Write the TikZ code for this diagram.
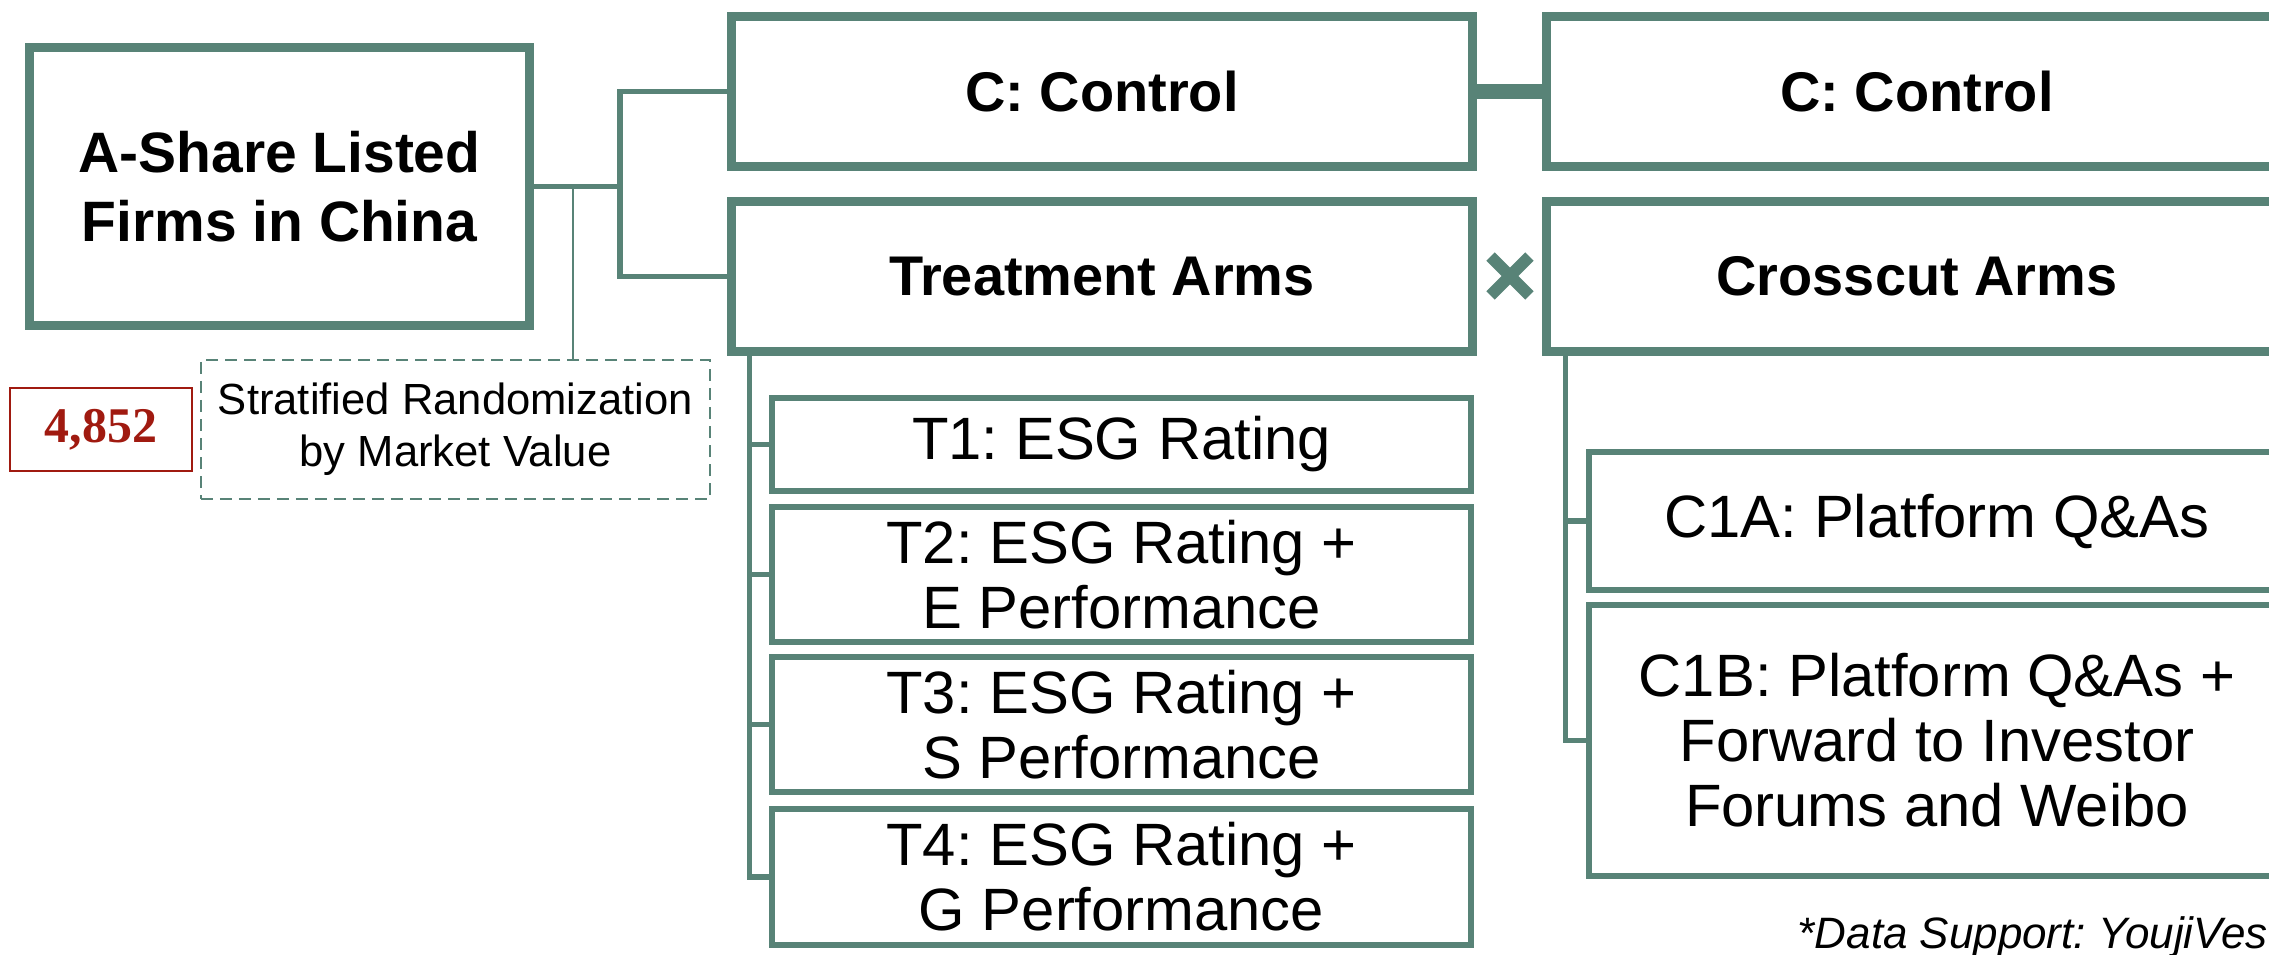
\documentclass[tikz,border=0pt]{standalone}
\usepackage{fontspec}
\setmainfont{Liberation Sans}
\newfontfamily\numfont{Liberation Serif}
\usetikzlibrary{shapes.misc}
\definecolor{esg}{RGB}{88,131,119}
\definecolor{esgred}{RGB}{160,26,16}
\frenchspacing

\begin{document}
\begin{tikzpicture}[
  x=0.01cm, y=-0.01cm,
  frame/.style={draw=esg, line width=2.56pt, fill=white, align=center, inner sep=0pt},
  head/.style={frame, font=\bfseries\fontsize{15.9}{19.6}\selectfont,
    minimum width=7.41cm, minimum height=1.50cm},
  arm/.style={draw=esg, line width=1.7pt, fill=white, align=center, inner sep=0pt,
    font=\fontsize{17.0}{18.5}\selectfont, minimum width=6.99cm},
  link/.style={draw=esg, line width=1.7pt},
  stub/.style={draw=esg, line width=1.45pt}
]
\useasboundingbox (0,0) rectangle (2269,954);
\clip (0,0) rectangle (2269,954);

% ── Sample: listed firms and the randomization note ─────────────
\node[frame, font=\bfseries\fontsize{16.2}{19.6}\selectfont,
  minimum width=4.99cm, minimum height=2.78cm] (firms) at (279.5,186.5)
  {A-Share Listed\\Firms in China};
\node[draw=esg, dash pattern=on 0.12cm off 0.07cm, line width=0.6pt,
  minimum width=5.09cm, minimum height=1.39cm, align=center, inner sep=0pt,
  font=\fontsize{12.4}{14.8}\selectfont] (strat) at (455.5,429.5)
  {Stratified Randomization\\by Market Value};
\node[draw=esgred, line width=0.6pt, minimum width=1.82cm, minimum height=0.83cm,
  inner sep=0pt, text=esgred, font=\numfont\bfseries\fontsize{14.2}{16}\selectfont]
  (count) at (101,429.5) {4,852};

% ── First split: control vs. treatment ───────────────────────────
\node[head] (ctrlA) at (1102,91.5) {C: Control};
\node[head] (treat) at (1102,276.5) {Treatment Arms};

% ── Second split: control vs. crosscut (cut at the right edge) ───
\node[head] (ctrlB) at (1917,91.5) {C: Control};
\node[head] (cross) at (1917,276.5) {Crosscut Arms};
\node[cross out, draw=esg, line width=3.4pt, minimum size=0.27cm, inner sep=0pt]
  (times) at (1510,276) {};

% ── Treatment arms ──────────────────────────────────────────────
\node[arm, minimum height=0.93cm] (t1) at (1121.5,444.5) {T1: ESG Rating};
\node[arm, minimum height=1.35cm] (t2) at (1121.5,574.5) {T2: ESG Rating +\\E Performance};
\node[arm, minimum height=1.35cm] (t3) at (1121.5,724.5) {T3: ESG Rating +\\S Performance};
\node[arm, minimum height=1.36cm] (t4) at (1121.5,877) {T4: ESG Rating +\\G Performance};

% ── Crosscut arms ───────────────────────────────────────────────
\node[arm, minimum width=6.96cm, minimum height=1.38cm] (c1a) at (1937,521)
  {C1A: Platform Q\&As};
\node[arm, minimum width=6.96cm, minimum height=2.71cm] (c1b) at (1937,740.5)
  {C1B: Platform Q\&As +\\Forward to Investor\\Forums and Weibo};

\node[anchor=base west, inner sep=0pt, font=\itshape\fontsize{12.5}{15}\selectfont]
  (note) at (1797,948) {*Data Support: YoujiVes};

% ── Connectors ──────────────────────────────────────────────────
\coordinate (split) at (620,186.5);
\coordinate (tap) at (573,186.5);
\draw[link] (firms.east) -- (split) |- (ctrlA.west);
\draw[link] (split) |- (treat.west);
\draw[esg, line width=0.45pt] (tap) -- (tap |- strat.north);
\draw[esg, line width=4.5pt] (ctrlA.east) -- (ctrlB.west);

\coordinate (tbus) at ([xshift=-3.525cm]treat.south);
\coordinate (cbus) at ([xshift=-3.51cm]cross.south);
\foreach \arm in {t1,t2,t3,t4}
  \draw[stub] (tbus) |- (\arm.west);
\foreach \arm in {c1a,c1b}
  \draw[stub] (cbus) |- (\arm.west);

\end{tikzpicture}
\end{document}
